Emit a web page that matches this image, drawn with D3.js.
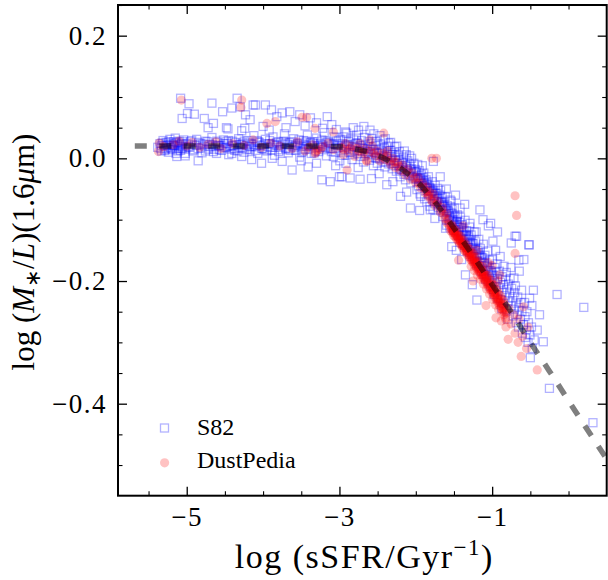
<!DOCTYPE html>
<html>
<head>
<meta charset="utf-8">
<script src="https://cdn.jsdelivr.net/npm/d3@7"></script>
<style>
  body { margin: 0; background: #fff; }
</style>
</head>
<body>
<div id="mainchart"></div>
<script>
// S82 galaxies (log sSFR, log M/L at 1.6um)
var s82 = [
  [-5.38,0.018],[-5.35,0.024],[-5.33,0.012],[-5.31,0.029],[-5.30,0.020],[-5.28,0.015],[-5.27,0.026],[-5.25,0.021],[-5.24,0.010],[-5.22,0.031],[-5.21,0.018],[-5.20,0.024],[-5.19,0.014],[-5.17,0.027],[-5.16,0.020],[-5.15,0.033],[-5.14,0.008],[-5.12,0.022],[-5.11,0.017],[-5.10,0.028],[-5.08,0.013],[-5.07,0.024],[-5.05,0.019],[-5.04,0.030],[-5.02,0.004],[-5.01,0.022],[-5.33,0.021],[-5.26,0.017],[-5.18,0.022],[-5.13,0.026],[-5.09,0.020],[-5.06,0.016],
  [-5.13,0.003],[-5.02,0.008],[-4.85,-0.004],[-4.61,0.008],[-4.41,0.008],[-4.28,0.003],[-4.15,-0.002],[-4.02,-0.008],[-3.88,0.000],[-3.75,-0.005],[-3.62,-0.019],[-3.50,-0.004],[-3.41,-0.014],[-3.30,-0.008],[-3.23,-0.035],[-3.12,-0.038],[-2.97,-0.030],[-3.05,-0.012],
  [-5.08,0.098],[-4.97,0.089],[-5.06,0.065],[-4.99,0.073],[-4.90,0.072],[-4.77,0.065],[-4.67,0.090],[-4.65,0.057],[-4.53,0.076],[-4.48,0.050],[-4.41,0.082],[-4.34,0.098],[-4.30,0.084],[-4.23,0.071],[-4.17,0.063],[-4.24,0.049],[-4.13,0.087],
  [-4.10,0.087],[-3.97,0.087],[-3.89,0.079],[-3.82,0.068],[-3.75,0.074],[-3.65,0.076],[-3.58,0.060],[-3.52,0.071],[-3.45,0.053],[-3.38,0.066],[-3.30,0.058],[-3.22,0.049],[-3.16,0.068],[-3.10,0.055],[-3.04,0.047],[-2.92,0.043],[-4.72,0.050],[-4.46,0.048],[-4.28,0.045],[-4.00,0.052],[-3.92,0.046],[-3.70,0.050],
  [-4.98,0.019],[-4.95,0.027],[-4.92,0.012],[-4.90,0.022],[-4.87,0.031],[-4.85,0.016],[-4.82,0.024],[-4.80,0.009],[-4.77,0.020],[-4.75,0.028],[-4.72,0.015],[-4.70,0.023],[-4.67,0.034],[-4.65,0.011],[-4.62,0.019],[-4.60,0.026],[-4.57,0.014],[-4.55,0.021],[-4.52,0.030],[-4.50,0.017],[-4.47,0.024],[-4.45,0.006],[-4.42,0.020],[-4.40,0.028],[-4.37,0.013],[-4.35,0.022],[-4.32,0.032],[-4.30,0.018],[-4.27,0.025],[-4.25,0.010],[-4.22,0.021],[-4.20,0.029],[-4.17,0.015],[-4.15,0.023],[-4.12,0.037],[-4.10,0.019],[-4.07,0.008],[-4.05,0.026],[-4.02,0.016],[-4.00,0.022],
  [-3.97,0.031],[-3.95,0.012],[-3.92,0.024],[-3.90,0.018],[-3.87,0.035],[-3.85,0.005],[-3.82,0.021],[-3.80,0.027],[-3.77,0.014],[-3.75,0.023],[-3.72,0.040],[-3.70,0.017],[-3.67,0.009],[-3.65,0.026],[-3.62,0.020],[-3.60,0.032],[-3.57,0.013],[-3.55,0.024],[-3.52,0.002],[-3.50,0.019],[-3.47,0.029],[-3.45,0.015],[-3.42,0.038],[-3.40,0.022],[-3.37,0.008],[-3.35,0.027],[-3.32,0.017],[-3.30,0.033],[-3.27,0.011],[-3.25,0.024],[-3.22,0.019],[-3.20,0.042],[-3.17,0.004],[-3.15,0.028],[-3.12,0.016],[-3.10,0.023],[-3.07,0.035],[-3.05,0.010],[-3.02,0.021],
  [-3.78,0.018],[-3.71,0.025],[-3.66,0.015],[-3.58,0.022],[-3.53,0.030],[-3.48,0.012],[-3.43,0.020],[-3.38,0.026],[-3.33,0.009],[-3.28,0.021],[-3.23,0.030],[-3.18,0.017],[-3.13,0.025],[-3.08,0.003],[-3.04,0.028],
  [-4.58,0.021],[-4.48,0.027],[-4.38,0.016],[-4.28,0.022],[-4.18,0.019],[-4.08,0.029],[-3.98,0.014],[-3.88,0.024],
  [-5.345,0.016],[-5.32,0.025],[-5.29,0.013],[-5.265,0.022],[-5.235,0.027],[-5.205,0.016],[-5.175,0.021],[-5.145,0.025],[-5.115,0.012],[-5.085,0.023],[-5.055,0.027],[-5.025,0.015],[-4.995,0.024],[-4.965,0.018],[-4.935,0.029],[-4.905,0.014],[-4.875,0.021],[-4.845,0.026],[-4.815,0.017],[-4.785,0.023],[-4.755,0.012],[-4.725,0.027],[-4.695,0.019],[-4.665,0.022],[-4.635,0.015],[-4.605,0.028],[-4.575,0.020],[-4.545,0.013],[-4.515,0.024],[-4.485,0.018],
  [-4.455,0.029],[-4.425,0.015],[-4.395,0.021],[-4.365,0.026],[-4.335,0.012],[-4.305,0.023],[-4.275,0.017],[-4.245,0.028],[-4.215,0.014],[-4.185,0.025],[-4.155,0.019],[-4.125,0.022],[-4.095,0.013],[-4.065,0.027],[-4.035,0.021],[-4.005,0.016],[-3.975,0.024],[-3.945,0.019],[-3.915,0.029],[-3.885,0.014],[-3.855,0.022],[-3.825,0.026],[-3.795,0.011],[-3.765,0.020],[-3.735,0.028],[-3.705,0.016],[-3.675,0.023],[-3.645,0.013],[-3.615,0.027],[-3.585,0.018],
  [-3.555,0.021],[-3.525,0.025],[-3.495,0.010],[-3.465,0.022],[-3.435,0.028],[-3.405,0.015],[-3.375,0.020],[-3.345,0.024],[-3.315,0.012],[-3.285,0.027],[-3.255,0.018],[-3.225,0.022],[-3.195,0.014],[-3.165,0.026],[-3.135,0.020],[-3.105,0.011],[-3.075,0.024],[-3.045,0.017],[-3.015,0.029],
  [-2.99,0.031],[-2.985,0.012],[-2.995,-0.004],[-2.96,0.024],[-2.955,0.005],[-2.94,0.035],[-2.935,0.017],[-2.91,0.020],[-2.915,-0.008],[-2.905,0.041],[-2.88,0.027],[-2.875,0.010],[-2.86,0.015],[-2.855,0.033],[-2.83,0.022],[-2.835,-0.002],[-2.825,0.006],[-2.81,0.030],[-2.805,0.013],[-2.78,0.018],[-2.775,0.038],[-2.76,0.008],[-2.765,0.025],[-2.755,-0.015],[-2.73,0.021],[-2.725,0.003],[-2.71,0.029],[-2.705,0.012],[-2.68,0.016],[-2.685,-0.006],[-2.675,0.034],[-2.66,0.023],[-2.655,0.008],[-2.63,0.011],[-2.625,0.027],[-2.61,0.019],[-2.605,-0.003],
  [-2.58,0.006],[-2.585,0.024],[-2.575,0.032],[-2.56,0.014],[-2.555,-0.012],[-2.53,0.021],[-2.525,0.002],[-2.51,0.009],[-2.515,0.028],[-2.505,-0.008],[-2.48,0.015],[-2.475,-0.001],[-2.46,0.022],[-2.455,0.005],[-2.43,-0.006],[-2.435,0.011],[-2.425,0.030],[-2.41,0.017],[-2.405,-0.014],[-2.38,0.003],[-2.375,0.020],[-2.36,-0.009],[-2.365,0.009],[-2.355,0.025],[-2.33,0.013],[-2.325,-0.002],[-2.31,-0.017],[-2.305,0.006],[-2.28,0.010],[-2.285,-0.008],[-2.275,0.019],[-2.26,-0.003],[-2.255,-0.021],[-2.23,0.005],[-2.225,-0.012],
  [-2.21,-0.019],[-2.215,0.011],[-2.205,-0.030],[-2.18,-0.006],[-2.175,-0.015],[-2.16,0.002],[-2.155,-0.026],[-2.13,-0.012],[-2.135,-0.035],[-2.125,0.006],[-2.11,-0.020],[-2.105,-0.004],[-2.08,-0.028],[-2.075,-0.010],[-2.06,-0.017],[-2.065,-0.040],[-2.055,0.000],[-2.03,-0.025],[-2.025,-0.008],[-2.01,-0.033],[-2.005,-0.018],
  [-2.97,0.020],[-2.93,0.014],[-2.89,0.022],[-2.85,0.009],[-2.81,0.019],[-2.79,0.024],[-2.74,0.012],[-2.70,0.018],[-2.67,0.004],[-2.64,0.016],[-2.62,0.008],[-2.59,0.015],[-2.54,0.010],[-2.52,0.000],[-2.49,0.008],[-2.45,0.013],[-2.42,0.002],[-2.39,-0.006],[-2.37,0.006],[-2.34,-0.004],[-2.32,0.003],[-2.29,-0.012],[-2.27,0.002],[-2.24,-0.009],[-2.22,-0.004],[-2.19,-0.018],[-2.17,-0.008],[-2.14,-0.021],[-2.12,-0.014],[-2.09,-0.024],[-2.07,-0.019],[-2.04,-0.030],[-2.02,-0.022],
  [-2.75,0.046],[-2.60,0.046],[-2.55,0.040],[-2.47,0.037],[-2.40,0.032],[-2.33,0.026],[-2.25,0.020],[-2.15,0.012],[-2.08,0.004],[-2.68,0.052],[-2.82,0.050],
  [-3.00,-0.030],[-2.86,-0.032],[-2.73,-0.034],[-2.58,-0.033],[-2.48,-0.025],[-2.38,-0.043],[-2.30,-0.038],[-2.20,-0.062],[-2.12,-0.055],[-2.07,-0.081],
  [-1.99,-0.022],[-1.985,-0.051],[-1.995,-0.034],[-1.97,-0.028],[-1.965,-0.045],[-1.975,-0.010],[-1.95,-0.033],[-1.945,-0.058],[-1.955,-0.020],[-1.93,-0.038],[-1.925,-0.027],[-1.935,-0.062],[-1.91,-0.044],[-1.905,-0.031],[-1.915,-0.012],[-1.89,-0.040],[-1.885,-0.066],[-1.895,-0.024],[-1.87,-0.047],[-1.865,-0.035],[-1.85,-0.052],[-1.845,-0.040],[-1.855,-0.071],[-1.83,-0.045],[-1.825,-0.058],[-1.835,-0.030],[-1.81,-0.061],[-1.805,-0.049],[-1.815,-0.078],[-1.79,-0.055],[-1.785,-0.038],
  [-1.77,-0.068],[-1.765,-0.052],[-1.775,-0.083],[-1.75,-0.060],[-1.745,-0.044],[-1.755,-0.074],[-1.73,-0.071],[-1.725,-0.057],[-1.71,-0.065],[-1.705,-0.080],[-1.715,-0.049],[-1.69,-0.076],[-1.685,-0.060],[-1.67,-0.084],[-1.665,-0.070],[-1.675,-0.052],[-1.65,-0.078],[-1.645,-0.095],[-1.655,-0.063],[-1.63,-0.088],[-1.625,-0.071],[-1.61,-0.082],[-1.605,-0.099],[-1.615,-0.062],[-1.59,-0.094],[-1.585,-0.077],[-1.595,-0.109],[-1.57,-0.086],[-1.565,-0.101],
  [-1.55,-0.097],[-1.545,-0.079],[-1.555,-0.112],[-1.53,-0.105],[-1.525,-0.090],[-1.535,-0.070],[-1.51,-0.100],[-1.505,-0.117],[-1.49,-0.110],[-1.485,-0.094],[-1.495,-0.081],[-1.47,-0.118],[-1.465,-0.103],[-1.45,-0.111],[-1.445,-0.126],[-1.455,-0.092],[-1.43,-0.120],[-1.425,-0.104],[-1.41,-0.130],[-1.405,-0.113],[-1.415,-0.096],[-1.39,-0.124],[-1.385,-0.139],[-1.395,-0.108],[-1.37,-0.133],[-1.365,-0.117],
  [-1.35,-0.142],[-1.345,-0.125],[-1.355,-0.101],[-1.33,-0.136],[-1.325,-0.150],[-1.335,-0.118],[-1.31,-0.145],[-1.305,-0.128],[-1.29,-0.153],[-1.285,-0.137],[-1.295,-0.112],[-1.27,-0.146],[-1.265,-0.160],[-1.275,-0.125],[-1.25,-0.156],[-1.245,-0.139],[-1.23,-0.164],[-1.225,-0.148],[-1.235,-0.120],[-1.21,-0.157],[-1.205,-0.172],[-1.215,-0.136],[-1.19,-0.168],[-1.185,-0.150],
  [-1.17,-0.176],[-1.165,-0.158],[-1.175,-0.132],[-1.15,-0.170],[-1.145,-0.184],[-1.155,-0.147],[-1.13,-0.180],[-1.125,-0.162],[-1.11,-0.189],[-1.105,-0.171],[-1.115,-0.140],[-1.09,-0.182],[-1.085,-0.197],[-1.095,-0.158],[-1.07,-0.192],[-1.065,-0.174],[-1.05,-0.200],[-1.045,-0.183],[-1.055,-0.151],[-1.03,-0.194],[-1.025,-0.208],[-1.035,-0.166],[-1.01,-0.203],[-1.005,-0.186],
  [-1.98,-0.031],[-1.96,-0.035],[-1.94,-0.032],[-1.92,-0.041],[-1.90,-0.036],[-1.88,-0.046],[-1.86,-0.042],[-1.84,-0.049],[-1.82,-0.048],[-1.80,-0.054],[-1.78,-0.053],[-1.76,-0.062],[-1.74,-0.057],[-1.72,-0.067],[-1.70,-0.065],[-1.68,-0.072],[-1.66,-0.072],[-1.64,-0.079],[-1.62,-0.078],[-1.60,-0.086],[-1.58,-0.085],[-1.56,-0.094],[-1.54,-0.089],[-1.52,-0.101],[-1.50,-0.096],
  [-1.48,-0.108],[-1.46,-0.103],[-1.44,-0.113],[-1.42,-0.112],[-1.40,-0.120],[-1.38,-0.119],[-1.36,-0.127],[-1.34,-0.126],[-1.32,-0.133],[-1.30,-0.132],[-1.28,-0.141],[-1.26,-0.139],[-1.24,-0.148],[-1.22,-0.147],[-1.20,-0.155],[-1.18,-0.154],[-1.16,-0.162],[-1.14,-0.161],[-1.12,-0.170],[-1.10,-0.168],[-1.08,-0.177],[-1.06,-0.176],[-1.04,-0.185],[-1.02,-0.183],[-1.00,-0.192],
  [-1.77,-0.005],[-1.68,-0.030],[-1.60,-0.050],[-1.55,-0.068],[-1.48,-0.060],[-1.42,-0.081],[-1.36,-0.075],[-1.29,-0.106],[-1.21,-0.120],[-1.16,-0.084],[-1.12,-0.100],[-1.05,-0.110],[-1.02,-0.106],
  [-1.95,-0.085],[-1.81,-0.084],[-1.75,-0.098],[-1.61,-0.114],[-1.53,-0.144],[-1.47,-0.150],[-1.35,-0.190],[-1.26,-0.206],[-1.20,-0.231],[-1.40,-0.165],
  [-0.99,-0.190],[-0.985,-0.214],[-0.995,-0.165],[-0.99,-0.135],[-0.97,-0.201],[-0.965,-0.178],[-0.975,-0.222],[-0.95,-0.186],[-0.945,-0.209],[-0.955,-0.150],[-0.93,-0.196],[-0.925,-0.228],[-0.935,-0.172],[-0.93,-0.120],[-0.91,-0.211],[-0.905,-0.184],[-0.89,-0.202],[-0.885,-0.230],[-0.895,-0.160],[-0.87,-0.218],[-0.865,-0.193],[-0.875,-0.245],
  [-0.85,-0.206],[-0.845,-0.176],[-0.855,-0.236],[-0.83,-0.224],[-0.825,-0.198],[-0.81,-0.214],[-0.805,-0.247],[-0.815,-0.186],[-0.79,-0.232],[-0.785,-0.205],[-0.795,-0.262],[-0.77,-0.221],[-0.765,-0.196],[-0.75,-0.240],[-0.745,-0.212],[-0.755,-0.178],[-0.73,-0.228],[-0.725,-0.257],[-0.71,-0.246],[-0.705,-0.219],[-0.715,-0.195],
  [-0.69,-0.236],[-0.685,-0.268],[-0.695,-0.208],[-0.67,-0.254],[-0.665,-0.226],[-0.65,-0.243],[-0.645,-0.184],[-0.655,-0.275],[-0.63,-0.262],[-0.625,-0.235],[-0.61,-0.250],[-0.605,-0.285],[-0.615,-0.215],[-0.59,-0.271],[-0.585,-0.165],[-0.57,-0.258],[-0.565,-0.292],[-0.575,-0.235],[-0.55,-0.280],[-0.545,-0.250],[-0.53,-0.300],[-0.525,-0.268],
  [-0.51,-0.228],[-0.505,-0.288],[-0.515,-0.141],[-0.48,-0.240],[-0.475,-0.310],[-0.485,-0.275],[-0.45,-0.296],[-0.50,-0.325],[-0.41,-0.280],[-0.33,-0.299],
  [-0.68,-0.127],[-0.75,-0.138],[-0.52,-0.141],[-0.65,-0.166],[-0.15,-0.222],[0.20,-0.243],[-0.25,-0.375],[0.32,-0.431],[-0.46,-0.215],[-0.70,-0.127],[-0.38,-0.255]
];

// DustPedia galaxies
var dustpedia = [
  [-5.37,0.011],[-5.36,0.025],[-5.30,0.019],[-5.18,0.022],[-5.10,0.028],[-5.00,0.020],[-4.93,0.026],[-4.83,0.018],[-4.72,0.023],[-4.62,0.027],[-4.55,0.016],[-4.40,0.024],[-4.25,0.021],[-4.13,0.030],[-4.02,0.018],[-3.90,0.025],[-3.78,0.020],[-3.62,0.016],[-3.55,0.027],[-3.45,0.012],[-3.35,0.022],[-3.32,0.008],[-3.22,0.019],[-3.15,0.025],[-3.08,0.014],
  [-5.07,0.095],[-4.28,0.095],[-4.29,0.083],[-3.95,0.057],[-3.84,0.060],[-3.49,0.067],[-3.43,0.067],[-3.32,0.049],[-3.08,0.043],[-2.42,0.041],[-2.60,0.030],[-2.90,-0.019],[-1.79,0.000],[-1.73,0.000],[-1.44,-0.166],[-0.70,-0.061],[-0.68,-0.093],
  [-2.98,0.018],[-2.95,0.006],[-2.92,0.024],[-2.88,0.012],[-2.84,0.020],[-2.80,0.003],[-2.77,0.016],[-2.73,0.024],[-2.70,0.008],[-2.66,0.015],[-2.64,-0.005],[-2.60,0.011],[-2.57,0.020],[-2.53,0.004],[-2.50,0.012],[-2.47,-0.004],[-2.43,0.008],[-2.40,-0.002],[-2.37,0.012],[-2.33,-0.010],[-2.30,0.000],[-2.27,-0.015],[-2.24,-0.006],
  [-2.20,-0.020],[-2.17,-0.011],[-2.14,-0.027],[-2.10,-0.018],[-2.07,-0.034],[-2.04,-0.024],[-2.00,-0.040],[-1.97,-0.031],[-1.94,-0.048],[-1.91,-0.040],[-1.88,-0.056],[-1.85,-0.047],[-1.83,-0.060],[-1.80,-0.068],[-1.77,-0.058],[-1.74,-0.078],[-1.71,-0.070],[-1.68,-0.088],[-1.65,-0.080],[-1.62,-0.098],[-1.60,-0.090],[-1.57,-0.108],
  [-3.31,0.010],[-3.29,0.013],[-2.95,0.015],[-2.65,-0.003],[-2.35,-0.004],[-1.84,-0.062],[-1.82,-0.055],[-1.78,-0.071],[-1.60,-0.104],
  [-2.55,0.008],[-2.45,0.002],[-2.38,0.004],[-2.28,-0.006],[-2.22,-0.013],[-2.12,-0.022],[-2.02,-0.032],[-1.96,-0.040],[-1.90,-0.047],[-1.86,-0.054],[-1.76,-0.066],[-1.72,-0.075],[-1.66,-0.085],[-1.63,-0.092],[-1.58,-0.100],[-2.86,0.016],[-2.75,0.012],[-2.68,0.010],[-3.25,0.015],[-3.40,0.018],
  [-1.55,-0.112],[-1.545,-0.118],[-1.53,-0.108],[-1.525,-0.121],[-1.535,-0.115],[-1.51,-0.119],[-1.505,-0.126],[-1.49,-0.116],[-1.485,-0.128],[-1.495,-0.122],[-1.47,-0.124],[-1.465,-0.132],[-1.45,-0.121],[-1.445,-0.135],[-1.455,-0.128],[-1.43,-0.131],[-1.425,-0.139],[-1.41,-0.127],[-1.405,-0.142],[-1.415,-0.135],[-1.39,-0.138],[-1.385,-0.146],
  [-1.37,-0.134],[-1.365,-0.150],[-1.375,-0.142],[-1.35,-0.145],[-1.345,-0.153],[-1.33,-0.141],[-1.325,-0.157],[-1.335,-0.149],[-1.31,-0.152],[-1.305,-0.161],[-1.29,-0.148],[-1.285,-0.165],[-1.295,-0.156],[-1.27,-0.159],[-1.265,-0.168],[-1.275,-0.176],[-1.25,-0.155],[-1.245,-0.171],[-1.255,-0.163],
  [-1.23,-0.166],[-1.225,-0.175],[-1.235,-0.183],[-1.21,-0.161],[-1.205,-0.179],[-1.215,-0.170],[-1.19,-0.173],[-1.185,-0.183],[-1.195,-0.190],[-1.17,-0.168],[-1.165,-0.186],[-1.175,-0.178],[-1.15,-0.180],[-1.145,-0.190],[-1.155,-0.197],[-1.13,-0.176],[-1.125,-0.194],[-1.135,-0.185],
  [-1.11,-0.188],[-1.105,-0.198],[-1.115,-0.205],[-1.09,-0.183],[-1.085,-0.201],[-1.095,-0.193],[-1.07,-0.195],[-1.065,-0.206],[-1.075,-0.213],[-1.05,-0.191],[-1.045,-0.210],[-1.055,-0.201],[-1.03,-0.204],[-1.025,-0.214],[-1.035,-0.221],[-1.01,-0.199],[-1.005,-0.218],[-1.015,-0.209],
  [-0.99,-0.212],[-0.985,-0.222],[-0.995,-0.230],[-0.97,-0.207],[-0.965,-0.226],[-0.975,-0.217],[-0.95,-0.220],[-0.945,-0.231],[-0.955,-0.239],[-0.93,-0.215],[-0.925,-0.235],[-0.935,-0.226],[-0.91,-0.229],[-0.905,-0.240],[-0.915,-0.247],[-0.89,-0.224],[-0.885,-0.244],[-0.895,-0.234],[-0.87,-0.238],[-0.865,-0.250],[-0.85,-0.232],[-0.845,-0.255],[-0.855,-0.244],[-0.83,-0.247],[-0.825,-0.260],
  [-1.54,-0.110],[-1.52,-0.117],[-1.50,-0.121],[-1.48,-0.125],[-1.46,-0.127],[-1.44,-0.133],[-1.42,-0.134],[-1.40,-0.140],[-1.38,-0.143],[-1.36,-0.146],[-1.34,-0.151],[-1.32,-0.153],[-1.30,-0.158],[-1.28,-0.162],[-1.26,-0.166],[-1.24,-0.169],[-1.22,-0.172],[-1.20,-0.177],
  [-1.18,-0.180],[-1.16,-0.184],[-1.14,-0.188],[-1.12,-0.191],[-1.10,-0.196],[-1.08,-0.199],[-1.06,-0.204],[-1.04,-0.207],[-1.02,-0.211],[-1.00,-0.215],[-0.98,-0.219],[-0.96,-0.223],[-0.94,-0.228],[-0.92,-0.232],[-0.90,-0.236],[-0.88,-0.241],[-0.86,-0.247],[-0.84,-0.251],
  [-1.515,-0.111],[-1.475,-0.118],[-1.435,-0.126],[-1.395,-0.133],[-1.355,-0.141],[-1.315,-0.147],[-1.275,-0.154],[-1.235,-0.162],[-1.195,-0.169],[-1.155,-0.176],[-1.115,-0.184],[-1.075,-0.191],[-1.035,-0.198],[-0.995,-0.206],[-0.955,-0.214],[-0.915,-0.221],[-0.875,-0.229],[-0.835,-0.238],[-0.815,-0.252],[-0.82,-0.263],
  [-0.79,-0.295],[-0.62,-0.323],[-0.41,-0.345],[-0.75,-0.270],[-0.70,-0.285],[-0.88,-0.265],[-0.82,-0.275],[-0.66,-0.300],[-0.55,-0.310],[-0.60,-0.290],[-0.95,-0.260],[-0.72,-0.255],[-0.78,-0.245],[-0.65,-0.262],[-1.25,-0.200],[-1.08,-0.240],[-0.92,-0.200],[-0.53,-0.275],[-0.59,-0.242],[-0.70,-0.155],[-1.20,-0.150],[-1.05,-0.170],[-0.90,-0.190],[-1.38,-0.110],[-1.00,-0.175]
];

// dashed relation
var fitX = [-5.68, -4.0, -3.5, -3.0, -2.75, -2.5, -2.25, -2.0, -1.75, -1.5, -1.25, -1.0, -0.75, -0.5, -0.25, 0.0, 0.25, 0.5];
var fitY = [0.020, 0.020, 0.020, 0.019, 0.014, 0.005, -0.012, -0.036, -0.071, -0.114, -0.159, -0.206, -0.251, -0.300, -0.347, -0.395, -0.443, -0.490];

var xMajor = [-5, -3, -1];
var xMinor = [-5.5, -4.5, -4, -3.5, -2.5, -2, -1.5, -0.5, 0];
var yMajor = [0.2, 0.0, -0.2, -0.4];
var yMinor = [0.25, 0.15, 0.1, 0.05, -0.05, -0.1, -0.15, -0.25, -0.3, -0.35, -0.45, -0.5];

var legendItems = ['S82', 'DustPedia'];

var serif = '"Liberation Serif", "Times New Roman", serif';

drawChart();

function drawChart(){
  var W = 608, H = 580;
  var left = 118, right = 606.7, top = 5, bottom = 495.7;

  var svg = d3.select('#mainchart').append('svg')
    .attr('width', W).attr('height', H);

  var x = d3.scaleLinear().domain([-5.9, 0.5]).range([left, right]);
  var y = d3.scaleLinear().domain([0.25, -0.55]).range([top, bottom]);

  svg.append('defs').append('clipPath').attr('id', 'plotclip')
    .append('rect')
    .attr('x', left).attr('y', top)
    .attr('width', right - left).attr('height', bottom - top);

  var plot = svg.append('g').attr('clip-path', 'url(#plotclip)');

  plot.selectAll('rect.s82').data(s82).enter().append('rect')
    .attr('class', 's82')
    .attr('x', function(d){ return x(d[0]) - 4; })
    .attr('y', function(d){ return y(d[1]) - 4; })
    .attr('width', 8).attr('height', 8)
    .attr('fill', 'none')
    .attr('stroke', '#0000ff')
    .attr('stroke-opacity', 0.3)
    .attr('stroke-width', 1.3);

  plot.selectAll('circle.dp').data(dustpedia).enter().append('circle')
    .attr('class', 'dp')
    .attr('cx', function(d){ return x(d[0]); })
    .attr('cy', function(d){ return y(d[1]); })
    .attr('r', 4.6)
    .attr('fill', '#ff0000')
    .attr('fill-opacity', 0.24);

  var fit = fitX.map(function(d, i){ return [d, fitY[i]]; });
  plot.append('path')
    .datum(fit)
    .attr('fill', 'none')
    .attr('stroke', '#000')
    .attr('stroke-opacity', 0.5)
    .attr('stroke-width', 5.5)
    .attr('stroke-dasharray', '12,12.5')
    .attr('d', d3.line()
      .curve(d3.curveMonotoneX)
      .x(function(d){ return x(d[0]); })
      .y(function(d){ return y(d[1]); })
    );

  // ticks, all pointing inwards
  var axes = [
    {ax: d3.axisBottom(x), pos: 'translate(0,' + bottom + ')', maj: xMajor, mnr: xMinor, lab: true, f: d3.format('d')},
    {ax: d3.axisTop(x), pos: 'translate(0,' + top + ')', maj: xMajor, mnr: xMinor, lab: false},
    {ax: d3.axisLeft(y), pos: 'translate(' + left + ',0)', maj: yMajor, mnr: yMinor, lab: true, f: d3.format('.1f')},
    {ax: d3.axisRight(y), pos: 'translate(' + right + ',0)', maj: yMajor, mnr: yMinor, lab: false}
  ];
  axes.forEach(function(a){
    var major = a.ax.tickValues(a.maj).tickSize(-9).tickPadding(a.lab ? 11 : 0)
      .tickFormat(a.lab ? a.f : function(){ return ''; });
    var g = svg.append('g').attr('transform', a.pos).call(major);
    g.select('.domain').remove();
    g.selectAll('.tick line').attr('stroke-width', 1.3);
    g.selectAll('.tick text')
      .style('font-family', serif)
      .style('font-size', '27px')
      .style('letter-spacing', '1.5px')
      .attr('fill', '#000');

    var minor = a.ax.tickValues(a.mnr).tickSize(-4.5).tickFormat(function(){ return ''; });
    var g2 = svg.append('g').attr('transform', a.pos).call(minor);
    g2.select('.domain').remove();
    g2.selectAll('.tick line').attr('stroke-width', 1.1);
  });

  svg.append('rect')
    .attr('x', left).attr('y', top)
    .attr('width', right - left).attr('height', bottom - top)
    .attr('fill', 'none').attr('stroke', '#000').attr('stroke-width', 2);

  // axis labels
  var xl = svg.append('text')
    .attr('x', (left + right) / 2 + 2).attr('y', 568)
    .attr('text-anchor', 'middle')
    .style('font-family', serif)
    .style('font-size', '34px')
    .style('letter-spacing', '1.5px');
  xl.append('tspan').text('log (sSFR/Gyr');
  xl.append('tspan').attr('dy', -13).style('font-size', '23px').text('\u22121');
  xl.append('tspan').attr('dy', 13).text(')');

  var yl = svg.append('text')
    .attr('transform', 'translate(34,252) rotate(-90)')
    .attr('text-anchor', 'middle')
    .style('font-family', serif)
    .style('font-size', '31px');
  yl.append('tspan').text('log (');
  yl.append('tspan').style('font-style', 'italic').text('M');
  yl.append('tspan').attr('dy', 6).style('font-size', '21px').text('\u2217');
  yl.append('tspan').attr('dy', -6).text('/');
  yl.append('tspan').style('font-style', 'italic').text('L');
  yl.append('tspan').text(')(1.6');
  yl.append('tspan').style('font-style', 'italic').text('\u03bc');
  yl.append('tspan').text('m)');

  // legend
  var lg = svg.append('g');
  lg.append('rect')
    .attr('x', 160.5).attr('y', 424)
    .attr('width', 8).attr('height', 8)
    .attr('fill', 'none').attr('stroke', '#0000ff')
    .attr('stroke-opacity', 0.3).attr('stroke-width', 1.3);
  lg.append('circle')
    .attr('cx', 164.6).attr('cy', 462.8).attr('r', 4.6)
    .attr('fill', '#ff0000').attr('fill-opacity', 0.24);
  lg.selectAll('text.leg').data(legendItems).enter().append('text')
    .attr('class', 'leg')
    .attr('x', 197)
    .attr('y', function(d, i){ return 435 + i * 33; })
    .style('font-family', serif)
    .style('font-size', '24px')
    .text(function(d){ return d; });
}
</script>
</body>
</html>
